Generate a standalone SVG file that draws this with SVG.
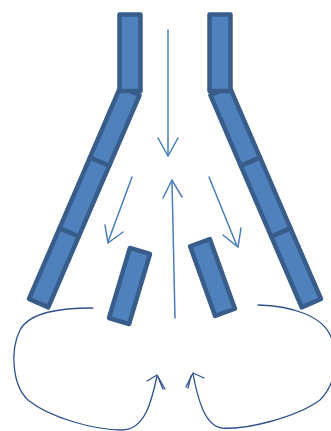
<svg xmlns="http://www.w3.org/2000/svg" width="331" height="431" viewBox="0 0 331 431">
<style>
.blk{fill:#4f81bd;stroke:#385d8a;stroke-width:4.5;stroke-linejoin:round}
.arr{fill:none;stroke:#4a7ebb;stroke-width:1.5;stroke-linecap:round;stroke-linejoin:miter}
.crv{fill:none;stroke:#2f528f;stroke-width:1.3;stroke-linecap:round;stroke-linejoin:round}
</style>
<rect width="331" height="431" fill="#ffffff"/>
<g id="left-chain">
<g transform="rotate(23.3 130 91)">
<rect class="blk" x="119.5" y="91" width="21" height="77"/>
<rect class="blk" x="119.5" y="168" width="21" height="77"/>
<rect class="blk" x="119.5" y="245" width="21" height="77"/>
</g>
<rect class="blk" x="119.5" y="14.5" width="21" height="76.5"/>
</g>
<g id="right-chain">
<g transform="rotate(-23.3 220 91)">
<rect class="blk" x="209.5" y="91" width="21" height="77"/>
<rect class="blk" x="209.5" y="168" width="21" height="77"/>
<rect class="blk" x="209.5" y="245" width="21" height="77"/>
</g>
<rect class="blk" x="209.5" y="14.5" width="21" height="76.5"/>
</g>
<g id="left-block">
<rect class="blk" x="119" y="249.5" width="21" height="73" transform="rotate(16.6 129.5 286)"/>
</g>
<g id="right-block">
<rect class="blk" x="202" y="240.5" width="21" height="74" transform="rotate(-19.8 212.5 277.5)"/>
</g>
<g id="connectors">
<path class="arr" d="M168,30 L168,155"/>
<polyline class="arr" points="158,138 168,156 178,138"/>
<path class="arr" d="M175,318 L172,182"/>
<polyline class="arr" points="163,198 172,180 182,197"/>
<path class="arr" d="M132,177 L108,242"/>
<polyline class="arr" points="105,225 108,243 123,232"/>
<path class="arr" d="M209,177 L237,246"/>
<polyline class="arr" points="223,235 238,247 241,228"/>
<path class="crv" d="M93,308 C60,308 30,312 20,330 C10,350 12,385 28,400 C50,418 95,430 122,430 C145,430 152,400 157,376"/>
<polyline class="crv" points="147,381 157,375 165,389"/>
<path class="crv" d="M158,377 L163,389"/>
<path class="crv" d="M258,305 C290,306 325,315 332,340 C338,365 335,385 320,400 C295,418 245,430 222,428 C205,426 198,400 193,374"/>
<polyline class="crv" points="204,378 193,373 186,387"/>
<path class="crv" d="M191,376 L188,388"/>
</g>
</svg>
